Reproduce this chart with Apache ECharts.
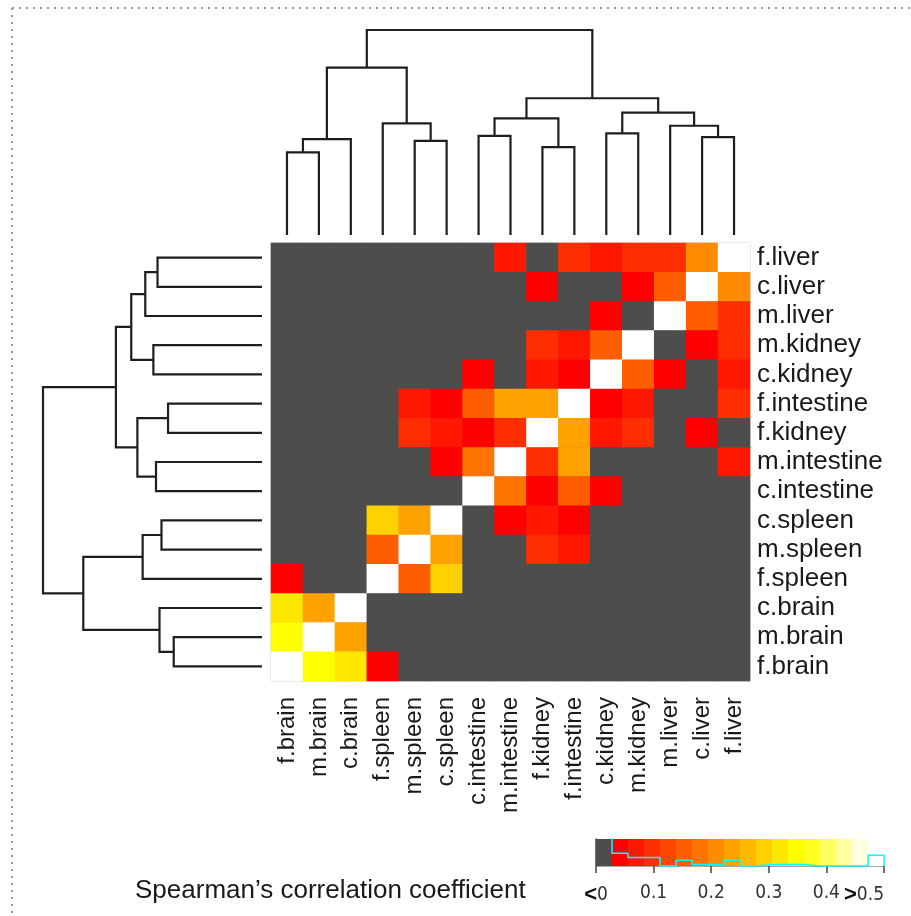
<!DOCTYPE html>
<html>
<head>
<meta charset="utf-8">
<script src="https://cdn.jsdelivr.net/npm/echarts@6/dist/echarts.min.js"></script>
<style>
  html, body { margin: 0; padding: 0; background: #ffffff; }
  #chart { width: 911px; height: 916px; }
</style>
</head>
<body>
<div id="chart"></div>
<script>
// Tissue samples, top-to-bottom order of the heatmap rows
const rowLabels = ['f.liver', 'c.liver', 'm.liver', 'm.kidney', 'c.kidney', 'f.intestine', 'f.kidney',
  'm.intestine', 'c.intestine', 'c.spleen', 'm.spleen', 'f.spleen', 'c.brain', 'm.brain', 'f.brain'];

// Left-to-right order of the heatmap columns
const colLabels = ['f.brain', 'm.brain', 'c.brain', 'f.spleen', 'm.spleen', 'c.spleen', 'c.intestine',
  'm.intestine', 'f.kidney', 'f.intestine', 'c.kidney', 'm.kidney', 'm.liver', 'c.liver', 'f.liver'];

// Spearman correlation, one row per rowLabels entry, columns in colLabels order
const corr = [
  [0, 0, 0, 0, 0, 0, 0, 0.07, 0, 0.10, 0.07, 0.10, 0.10, 0.21, 1],
  [0, 0, 0, 0, 0, 0, 0, 0, 0.04, 0, 0, 0.04, 0.15, 1, 0.21],
  [0, 0, 0, 0, 0, 0, 0, 0, 0, 0, 0.04, 0, 1, 0.15, 0.10],
  [0, 0, 0, 0, 0, 0, 0, 0, 0.10, 0.07, 0.15, 1, 0, 0.04, 0.10],
  [0, 0, 0, 0, 0, 0, 0.04, 0, 0.07, 0.04, 1, 0.15, 0.04, 0, 0.07],
  [0, 0, 0, 0, 0.075, 0.04, 0.15, 0.24, 0.24, 1, 0.04, 0.07, 0, 0, 0.10],
  [0, 0, 0, 0, 0.10, 0.07, 0.04, 0.10, 1, 0.24, 0.07, 0.10, 0, 0.04, 0],
  [0, 0, 0, 0, 0, 0.04, 0.18, 1, 0.10, 0.24, 0, 0, 0, 0, 0.07],
  [0, 0, 0, 0, 0, 0, 1, 0.18, 0.04, 0.15, 0.04, 0, 0, 0, 0],
  [0, 0, 0, 0.29, 0.24, 1, 0, 0.04, 0.07, 0.04, 0, 0, 0, 0, 0],
  [0, 0, 0, 0.15, 1, 0.24, 0, 0, 0.10, 0.075, 0, 0, 0, 0, 0],
  [0.04, 0, 0, 1, 0.15, 0.29, 0, 0, 0, 0, 0, 0, 0, 0, 0],
  [0.315, 0.245, 1, 0, 0, 0, 0, 0, 0, 0, 0, 0, 0, 0, 0],
  [0.35, 1, 0.245, 0, 0, 0, 0, 0, 0, 0, 0, 0, 0, 0, 0],
  [1, 0.35, 0.315, 0.04, 0, 0, 0, 0, 0, 0, 0, 0, 0, 0, 0]
];

// Hierarchical clustering: [child A, child B, merge height]; numbers refer to earlier merges
const merges = [
  ['f.brain', 'm.brain', 0.403],
  [0, 'c.brain', 0.468],
  ['m.spleen', 'c.spleen', 0.459],
  ['f.spleen', 2, 0.545],
  [1, 3, 0.816],
  ['c.intestine', 'm.intestine', 0.484],
  ['f.kidney', 'f.intestine', 0.429],
  [5, 6, 0.569],
  ['c.kidney', 'm.kidney', 0.496],
  ['c.liver', 'f.liver', 0.477],
  ['m.liver', 9, 0.533],
  [8, 10, 0.597],
  [7, 11, 0.667],
  [4, 12, 1.0]
];

// Colour key: below-range grey, heat colours, above-range white
const keyColors = ['#4D4D4D', '#FF0000', '#FF1700', '#FF2E00', '#FF4600', '#FF5D00', '#FF7400', '#FF8B00',
  '#FFA200', '#FFB900', '#FFD100', '#FFE800', '#FFFF00', '#FFFF20', '#FFFF60', '#FFFF9F', '#FFFFDF', '#FFFFFF'];
const keyMin = 0;
const keyMax = 0.5;
const keyTicks = [0, 0.1, 0.2, 0.3, 0.4, 0.5];

const chartTitle = 'Spearman\u2019s correlation coefficient';

const SANS = '"Liberation Sans", Arial, sans-serif';
const NARROW = '"Liberation Sans Narrow", "DejaVu Sans Condensed", "Liberation Sans", sans-serif';

const binW = (keyMax - keyMin) / keyColors.length;
const binOf = v => Math.max(0, Math.min(keyColors.length - 1, Math.floor((v - keyMin) / binW + 1e-9)));

// Heatmap cells
const cells = [];
corr.forEach((row, r) => row.forEach((v, c) => cells.push([c, r, v])));

// Piecewise colour mapping matching the key bins
const pieces = keyColors.map((color, i) => {
  const p = { color: color };
  if (i > 0) p.gte = keyMin + i * binW;
  if (i < keyColors.length - 1) p.lt = keyMin + (i + 1) * binW;
  return p;
});

// Dendrogram polylines; leafPos gives each leaf's index along the heatmap
function dendroLines(leafPos, horizontal) {
  const pos = [], ht = [], lines = [];
  const get = ref => typeof ref === 'string' ? [leafPos.indexOf(ref), 0] : [pos[ref], ht[ref]];
  merges.forEach((m, i) => {
    const [pa, ha] = get(m[0]);
    const [pb, hb] = get(m[1]);
    const h = m[2];
    pos[i] = (pa + pb) / 2;
    ht[i] = h;
    const pts = [[pa, ha], [pa, h], [pb, h], [pb, hb]];
    lines.push({ coords: horizontal ? pts.map(p => [p[1], p[0]]) : pts });
  });
  return lines;
}

// Histogram of the values across the key bins
const counts = keyColors.map(() => 0);
corr.forEach(row => row.forEach(v => { counts[binOf(v)] += 1; }));
const trace = [];
counts.forEach((n, k) => {
  trace.push([keyMin + k * binW, n]);
  trace.push([keyMin + (k + 1) * binW, n]);
});
trace.push([keyMax, 0]);

const keyBins = keyColors.map((c, i) => [keyMin + i * binW, keyMin + (i + 1) * binW, i]);

const HM = { left: 271, top: 243, width: 479, height: 438 };

const option = {
  backgroundColor: '#ffffff',
  animation: false,
  title: {
    text: chartTitle,
    left: 130,
    top: 873,
    textStyle: { fontFamily: SANS, fontSize: 26, fontWeight: 'normal', color: '#1a1a1a' }
  },
  grid: [
    { left: HM.left, top: HM.top, width: HM.width, height: HM.height, show: true,
      borderColor: '#c4c4c4', borderWidth: 1, backgroundColor: keyColors[0] },
    { left: HM.left, top: 30, width: HM.width, height: 205 },
    { left: 43, top: HM.top, width: 219, height: HM.height },
    { left: 596, top: 839, width: 288, height: 27 }
  ],
  xAxis: [
    { gridIndex: 0, type: 'category', data: colLabels, position: 'bottom',
      axisLine: { show: false }, axisTick: { show: false }, splitLine: { show: false },
      axisLabel: { rotate: 90, margin: 16, interval: 0, fontFamily: SANS, fontSize: 24, color: '#1a1a1a' } },
    { gridIndex: 1, type: 'value', min: -0.5, max: colLabels.length - 0.5, show: false },
    { gridIndex: 2, type: 'value', min: 0, max: 1, inverse: true, show: false },
    { gridIndex: 3, type: 'value', min: keyMin, max: keyMax, interval: 0.1,
      axisLine: { show: true, lineStyle: { color: '#8a8a8a', width: 1.5 } },
      axisTick: { show: true, length: 7, lineStyle: { color: '#444', width: 1.5 } },
      splitLine: { show: false },
      axisLabel: {
        margin: 18, showMinLabel: true, showMaxLabel: true, hideOverlap: false,
        alignMaxLabel: 'right', color: '#333',
        fontFamily: NARROW, fontSize: 19,
        formatter: v => {
          const t = keyTicks.find(k => Math.abs(k - v) < 1e-9);
          if (t === undefined) return '';
          if (Math.abs(t - keyMin) < 1e-9) return '{s|<}{v|' + t + '}';
          if (Math.abs(t - keyMax) < 1e-9) return '{s|>}{v|' + t + '}';
          return '{v|' + t + '}';
        },
        rich: {
          s: { fontFamily: SANS, fontSize: 22, fontWeight: 'bold', color: '#111' },
          v: { fontFamily: NARROW, fontSize: 19, color: '#333' }
        }
      } }
  ],
  yAxis: [
    { gridIndex: 0, type: 'category', data: rowLabels, inverse: true, position: 'right',
      axisLine: { show: false }, axisTick: { show: false }, splitLine: { show: false },
      axisLabel: { margin: 7, interval: 0, fontFamily: SANS, fontSize: 26, color: '#1a1a1a' } },
    { gridIndex: 1, type: 'value', min: 0, max: 1, show: false },
    { gridIndex: 2, type: 'value', min: -0.5, max: rowLabels.length - 0.5, inverse: true, show: false },
    { gridIndex: 3, type: 'value', min: 0, max: 38, position: 'right',
      axisLine: { show: true, lineStyle: { color: '#444', width: 1.5 } },
      axisTick: { show: false }, axisLabel: { show: false }, splitLine: { show: false } }
  ],
  visualMap: {
    type: 'piecewise', show: false, seriesIndex: 0, dimension: 2, pieces: pieces
  },
  series: [
    {
      type: 'heatmap', xAxisIndex: 0, yAxisIndex: 0, data: cells,
      itemStyle: { borderWidth: 0 }, emphasis: { disabled: true }, silent: true
    },
    {
      type: 'lines', coordinateSystem: 'cartesian2d', xAxisIndex: 1, yAxisIndex: 1,
      polyline: true, silent: true, data: dendroLines(colLabels, false),
      lineStyle: { color: '#1e1e1e', width: 2.2, opacity: 1 }
    },
    {
      type: 'lines', coordinateSystem: 'cartesian2d', xAxisIndex: 2, yAxisIndex: 2,
      polyline: true, silent: true, data: dendroLines(rowLabels, true),
      lineStyle: { color: '#1e1e1e', width: 2.2, opacity: 1 }
    },
    {
      type: 'custom', xAxisIndex: 3, yAxisIndex: 3, data: keyBins, silent: true,
      renderItem: (params, api) => {
        const p0 = api.coord([api.value(0), 38]);
        const p1 = api.coord([api.value(1), 0]);
        return {
          type: 'rect',
          shape: { x: p0[0], y: p0[1], width: p1[0] - p0[0] + 0.5, height: p1[1] - p0[1] },
          style: { fill: keyColors[api.value(2)] }
        };
      }
    },
    {
      type: 'line', xAxisIndex: 3, yAxisIndex: 3, data: trace, showSymbol: false, silent: true,
      clip: true, lineStyle: { color: '#00FFFF', width: 1.5 }, z: 5
    }
  ],
  graphic: [
    { type: 'line', shape: { x1: 12, y1: 8, x2: 911, y2: 8 },
      style: { stroke: '#9a9a9a', lineWidth: 2, lineDash: [2, 5] }, silent: true },
    { type: 'line', shape: { x1: 12, y1: 8, x2: 12, y2: 916 },
      style: { stroke: '#9a9a9a', lineWidth: 2, lineDash: [2, 5] }, silent: true }
  ]
};

const chart = echarts.init(document.getElementById('chart'), null, { renderer: 'canvas' });
chart.setOption(option);
</script>
</body>
</html>
